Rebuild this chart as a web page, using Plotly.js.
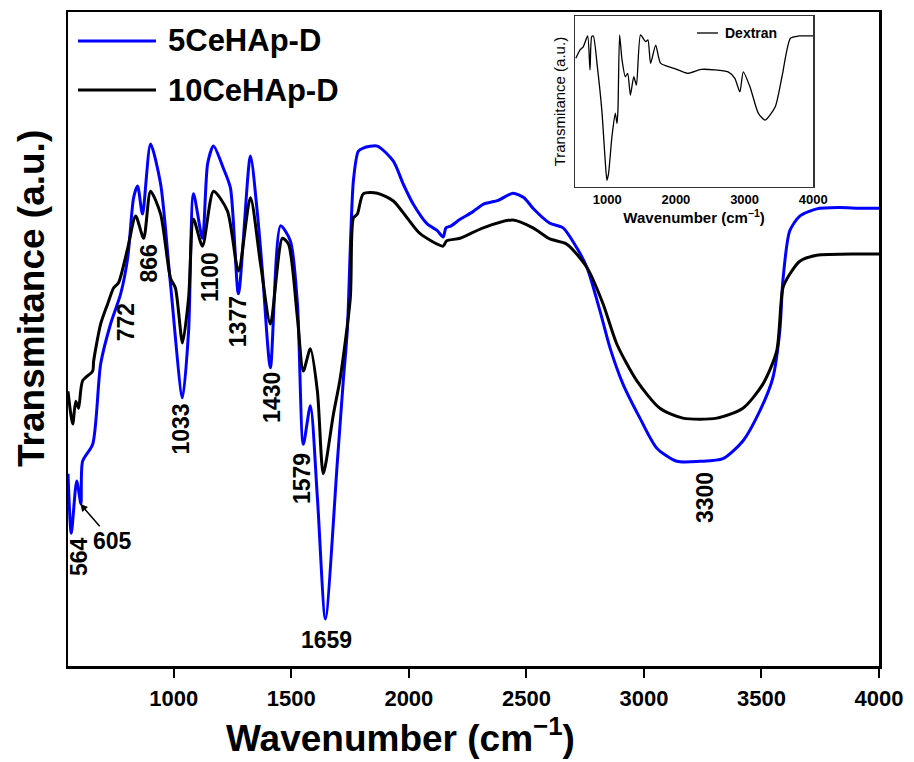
<!DOCTYPE html>
<html>
<head>
<meta charset="utf-8">
<script src="https://cdn.plot.ly/plotly-3.0.1.min.js"></script>
<style>html,body{margin:0;padding:0;background:#fff;}#chart{width:914px;height:762px;}</style>
</head>
<body>
<div id="chart"></div>
<script>
// ---- Data (wavenumber in cm-1, transmittance in arbitrary units) ----
const blueName = "5CeHAp-D";
const blackName = "10CeHAp-D";
const insetName = "Dextran";

const blueWn = [550, 564, 587, 605, 612, 655, 689, 731, 774, 804, 829, 846, 867, 901, 944, 986, 1037, 1063, 1084, 1122, 1144, 1169, 1211, 1241, 1275, 1326, 1356, 1377, 1411, 1454, 1496, 1526, 1551, 1581, 1611, 1645, 1696, 1721, 1738, 1764, 1785, 1806, 1866, 1934, 1976, 2019, 2078, 2120, 2146, 2158, 2180, 2218, 2270, 2316, 2380, 2443, 2490, 2528, 2600, 2656, 2715, 2758, 2813, 2856, 2911, 2983, 3055, 3140, 3238, 3336, 3421, 3493, 3548, 3578, 3591, 3620, 3663, 3735, 3830, 3918, 4000];
const blueT = [29.4, 20.3, 28.3, 24.8, 31.3, 33.9, 46.2, 52.3, 56.9, 62.4, 71.6, 73.4, 69.1, 79.8, 73.7, 58.4, 41.0, 51.2, 72.2, 65.4, 76.8, 79.5, 76.1, 73.1, 56.9, 78.0, 69.1, 60.4, 45.6, 67.3, 65.0, 55.4, 33.9, 39.8, 25.7, 7.2, 31.3, 43.6, 51.2, 74.2, 78.7, 79.2, 79.5, 77.2, 73.7, 70.6, 67.6, 66.6, 65.6, 67.0, 67.3, 68.3, 69.4, 70.6, 71.2, 72.3, 71.6, 70.0, 67.7, 67.0, 63.9, 60.9, 54.3, 48.6, 43.1, 37.9, 33.3, 31.3, 31.3, 31.7, 34.4, 39.0, 44.0, 51.2, 58.9, 66.5, 68.8, 69.9, 70.1, 70.0, 70.0];

const blackWn = [550, 570, 583, 595, 612, 655, 659, 689, 719, 744, 765, 804, 838, 872, 901, 944, 986, 1007, 1037, 1063, 1084, 1122, 1169, 1228, 1275, 1326, 1369, 1411, 1462, 1488, 1526, 1551, 1581, 1611, 1636, 1679, 1708, 1751, 1764, 1781, 1806, 1866, 1934, 1993, 2048, 2146, 2160, 2218, 2316, 2443, 2528, 2600, 2672, 2758, 2826, 2885, 2970, 3068, 3166, 3310, 3421, 3506, 3565, 3591, 3620, 3663, 3735, 3918, 4000];
const blackT = [42.0, 37.0, 40.5, 39.4, 43.6, 45.1, 46.6, 52.3, 55.4, 57.8, 58.6, 63.9, 68.8, 65.4, 72.6, 69.1, 59.3, 57.8, 49.4, 56.3, 68.3, 64.2, 72.6, 69.6, 60.4, 71.6, 61.5, 52.3, 65.4, 64.5, 53.2, 45.1, 48.5, 42.0, 29.4, 38.5, 44.0, 56.3, 68.5, 69.1, 72.2, 72.3, 71.1, 68.5, 66.1, 64.2, 65.0, 65.4, 67.0, 68.2, 67.0, 65.3, 64.5, 60.9, 55.4, 49.2, 43.6, 39.4, 37.9, 37.9, 39.4, 43.1, 48.2, 57.8, 59.9, 61.9, 62.8, 63.0, 63.0];

const dexWn = [544, 603, 652, 716, 750, 775, 799, 857, 922, 971, 996, 1020, 1069, 1118, 1143, 1157, 1181, 1216, 1265, 1299, 1338, 1387, 1426, 1485, 1559, 1593, 1632, 1706, 1779, 1975, 2172, 2368, 2760, 2858, 2931, 2981, 3078, 3201, 3299, 3446, 3544, 3667, 3790, 4000];
const dexT = [75.3, 80.1, 82.0, 88.3, 68.4, 87.9, 88.3, 70.4, 45.0, 15.8, 4.1, 8.0, 29.4, 43.3, 37.2, 45.0, 88.9, 74.3, 64.5, 66.5, 53.8, 64.5, 59.6, 88.9, 85.0, 86.0, 72.3, 83.0, 72.3, 69.4, 66.5, 68.8, 67.4, 63.6, 55.7, 67.4, 58.7, 43.1, 39.2, 47.0, 64.5, 87.0, 88.3, 88.3];

const xTicks = [1000, 1500, 2000, 2500, 3000, 3500, 4000];
const insetTicks = [1000, 2000, 3000, 4000];

// peak labels: [text, wavenumber, transmittance, angle]
const peakLabels = [
  ["772", 798, 52.6, -90], ["866", 896, 61.6, -90], ["1033", 1032, 36.2, -90],
  ["1100", 1155, 59.5, -90], ["1377", 1274, 52.6, -90], ["1430", 1418, 41.0, -90],
  ["1579", 1546, 28.6, -90], ["564", 598, 16.7, -90],
  ["1659", 1648, 4.0, 0], ["3300", 3263, 25.8, -90]
];

const FONT = "Liberation Sans, Arial, sans-serif";

const traces = [
  {x: blueWn, y: blueT, type: "scatter", mode: "lines", name: blueName,
   line: {color: "#0000ff", width: 3, shape: "spline", smoothing: 0.7}, xaxis: "x", yaxis: "y", showlegend: false},
  {x: blackWn, y: blackT, type: "scatter", mode: "lines", name: blackName,
   line: {color: "#000000", width: 3, shape: "spline", smoothing: 0.7}, xaxis: "x", yaxis: "y", showlegend: false},
  {x: dexWn, y: dexT, type: "scatter", mode: "lines", name: insetName,
   line: {color: "#000000", width: 1.3, shape: "spline", smoothing: 0.6}, xaxis: "x2", yaxis: "y2", showlegend: false}
];

const annotations = peakLabels.map(p => ({
  text: p[0], x: p[1], y: p[2], xref: "x", yref: "y", showarrow: false,
  textangle: p[3], font: {family: FONT, size: 23, color: "#000", weight: 700}
}));
// 605 label with arrow pointing at the band
annotations.push({x: 602, y: 24.8, xref: "x", yref: "y", text: "605", showarrow: true,
  arrowhead: 2, arrowsize: 1, arrowwidth: 1.5, arrowcolor: "#000", ax: 32, ay: 37, standoff: 0,
  font: {family: FONT, size: 23, color: "#000", weight: 700}});

// axis titles (placed as in the reference, off-centre)
annotations.push({text: "Wavenumber (cm<sup>−1</sup>)", xref: "paper", yref: "paper",
  x: 0.4094, y: -0.107, xanchor: "center", yanchor: "middle", showarrow: false,
  font: {family: FONT, size: 37, color: "#000", weight: 700}});
annotations.push({text: "Transmitance (a.u.)", xref: "paper", yref: "paper",
  x: -0.0444, y: 0.5627, xanchor: "center", yanchor: "middle", showarrow: false, textangle: -90,
  font: {family: FONT, size: 37, color: "#000", weight: 700}});

// legend texts (main + inset)
annotations.push({text: blueName, xref: "paper", yref: "paper", x: 0.1208, y: 0.9557,
  xanchor: "left", yanchor: "middle", showarrow: false,
  font: {family: FONT, size: 31, color: "#000", weight: 700}});
annotations.push({text: blackName, xref: "paper", yref: "paper", x: 0.1208, y: 0.8807,
  xanchor: "left", yanchor: "middle", showarrow: false,
  font: {family: FONT, size: 31, color: "#000", weight: 700}});
annotations.push({text: insetName, xref: "paper", yref: "paper", x: 0.8077, y: 0.9679,
  xanchor: "left", yanchor: "middle", showarrow: false,
  font: {family: FONT, size: 14, color: "#000", weight: 700}});

const shapes = [
  {type: "line", xref: "paper", yref: "paper", x0: 0.0123, x1: 0.1085, y0: 0.9557, y1: 0.9557,
   line: {color: "#0000ff", width: 3}},
  {type: "line", xref: "paper", yref: "paper", x0: 0.0123, x1: 0.1085, y0: 0.8807, y1: 0.8807,
   line: {color: "#000000", width: 3}},
  {type: "line", xref: "paper", yref: "paper", x0: 0.7756, x1: 0.8015, y0: 0.9679, y1: 0.9679,
   line: {color: "#000000", width: 1.3}}
];

const layout = {
  width: 914, height: 762,
  margin: {l: 68, r: 35, t: 12, b: 96, pad: 0},
  paper_bgcolor: "#fff", plot_bgcolor: "#fff",
  font: {family: FONT, color: "#000"},
  showlegend: false,
  xaxis: {
    range: [550, 4000], domain: [0, 1], anchor: "y",
    showline: true, linewidth: 2.5, linecolor: "#000", mirror: true,
    showgrid: false, zeroline: false,
    ticks: "outside", ticklen: 9, tickwidth: 2, tickcolor: "#000",
    tickmode: "array", tickvals: xTicks, ticktext: xTicks.map(String),
    ticklabelstandoff: 2,
    tickfont: {family: FONT, size: 22, weight: 700, color: "#000"}
  },
  yaxis: {
    range: [0, 100], domain: [0, 1], anchor: "x",
    showline: true, linewidth: 2.5, linecolor: "#000", mirror: true,
    showgrid: false, zeroline: false, ticks: "", showticklabels: false
  },
  xaxis2: {
    range: [530, 4000], domain: [0.625, 0.919], anchor: "y2",
    showline: true, linewidth: 1.2, linecolor: "#333", mirror: true,
    showgrid: false, zeroline: false, ticks: "",
    tickmode: "array", tickvals: insetTicks, ticktext: insetTicks.map(String),
    tickfont: {family: FONT, size: 13, weight: 700, color: "#000"},
    title: {text: "Wavenumber (cm<sup>−1</sup>)", standoff: 6,
            font: {family: FONT, size: 15, weight: 700, color: "#000"}}
  },
  yaxis2: {
    range: [0, 100], domain: [0.732, 0.994], anchor: "x2",
    showline: true, linewidth: 1.2, linecolor: "#333", mirror: true,
    showgrid: false, zeroline: false, ticks: "", showticklabels: false,
    title: {text: "Transmitance (a.u.)", standoff: 4,
            font: {family: FONT, size: 15, color: "#000"}}
  },
  annotations: annotations,
  shapes: shapes
};

Plotly.newPlot("chart", traces, layout, {displayModeBar: false, staticPlot: true});
</script>
</body>
</html>
